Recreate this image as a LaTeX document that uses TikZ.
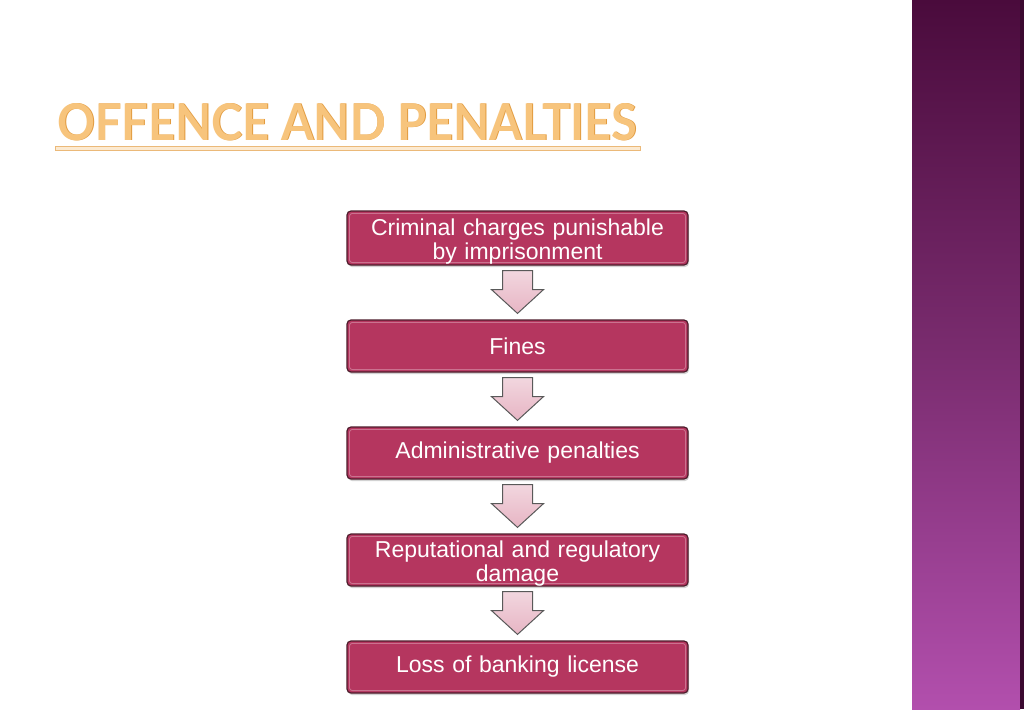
\documentclass[tikz,border=0pt]{standalone}
\usepackage{fontspec}
\setmainfont{Liberation Sans}
\newfontfamily\titlefont{Lato}
\usetikzlibrary{calc}
\usetikzlibrary{shadows}
\definecolor{boxred}{HTML}{B5365F}
\definecolor{boxedge}{HTML}{4E1D2C}
\definecolor{arrowpink}{HTML}{E7B5C4}
\definecolor{titleorange}{HTML}{F7C47C}
\definecolor{titleedge}{HTML}{E29B3F}
\definecolor{bartop}{HTML}{4A0B3C}
\definecolor{barmid}{HTML}{7A2C6F}
\definecolor{barbottom}{HTML}{B24FAD}
\tikzset{stepbox/.style = {draw = boxedge, line width = 1.2pt, fill = boxred,
                           rounded corners = 4pt, text = white,
                           minimum width = 341pt, minimum height = 52pt,
                           text width = 330pt, align = center, inner sep = 2pt,
                           font = \fontsize{23}{24}\selectfont,
                           drop shadow = {shadow xshift = 1pt, shadow yshift = -2pt, opacity = 0.35}}}
\tikzset{bevel/.style = {draw = white, opacity = 0.3, line width = 0.8pt, rounded corners = 3pt}}
\tikzset{downarrow/.style = {draw = black!65, line width = 1pt, line join = miter,
                             top color = arrowpink!55, bottom color = arrowpink}}

\begin{document}
\begin{tikzpicture}[x = 1pt, y = -1pt]
        \useasboundingbox [fill = white] (0, 0) rectangle (1024, 709);

        % side bar
        \shade [top color = bartop, bottom color = barbottom, middle color = barmid] (912, 0) rectangle (1020, 709);
        \fill [bartop!80!black] (1020, 0) rectangle (1024, 709);

        % title
        \node [anchor = base west, text = titleedge, inner sep = 0] at (57.8, 140.8)
              {\resizebox{580pt}{37pt}{\titlefont\bfseries OFFENCE AND PENALTIES}};
        \node [anchor = base west, text = titleorange, inner sep = 0] (title) at (57, 140)
              {\resizebox{580pt}{37pt}{\titlefont\bfseries OFFENCE AND PENALTIES}};
        \draw [draw = titleedge!70, fill = titleorange!35, line width = 0.6pt] (55, 146) rectangle (640, 150);

        % steps
        \node [stepbox, minimum height = 54pt, inner ysep = 1pt] (crim) at (517.5, 238)
              {\rule{0pt}{23pt}Criminal charges punishable\\by imprisonment};
        \node [stepbox] (fines) at (517.5, 346) {Fines};
        \node [stepbox] (admin) at (517.5, 453) {Administrative penalties};
        \node [stepbox, inner ysep = 0pt] (reput) at (517.5, 560)
              {\rule{0pt}{23pt}Reputational and regulatory\\damage};
        \node [stepbox] (loss) at (517.5, 667) {Loss of banking license};

        \foreach \n in {crim, fines, admin, reput, loss}
          \draw [bevel] ($(\n.north west) + (3, 3)$) rectangle ($(\n.south east) + (-3, -3)$);

        \foreach \a/\b in {crim/fines, fines/admin, admin/reput, reput/loss}
          \draw [downarrow] ($(\a.south) + (-15, 5)$) -- ($(\a.south) + (15, 5)$)
                -- ($(\a.south) + (15, 24)$) -- ($(\a.south) + (26, 24)$)
                -- ($(\b.north) + (0, -6)$)
                -- ($(\a.south) + (-26, 24)$) -- ($(\a.south) + (-15, 24)$) -- cycle;
      \end{tikzpicture}
\end{document}
